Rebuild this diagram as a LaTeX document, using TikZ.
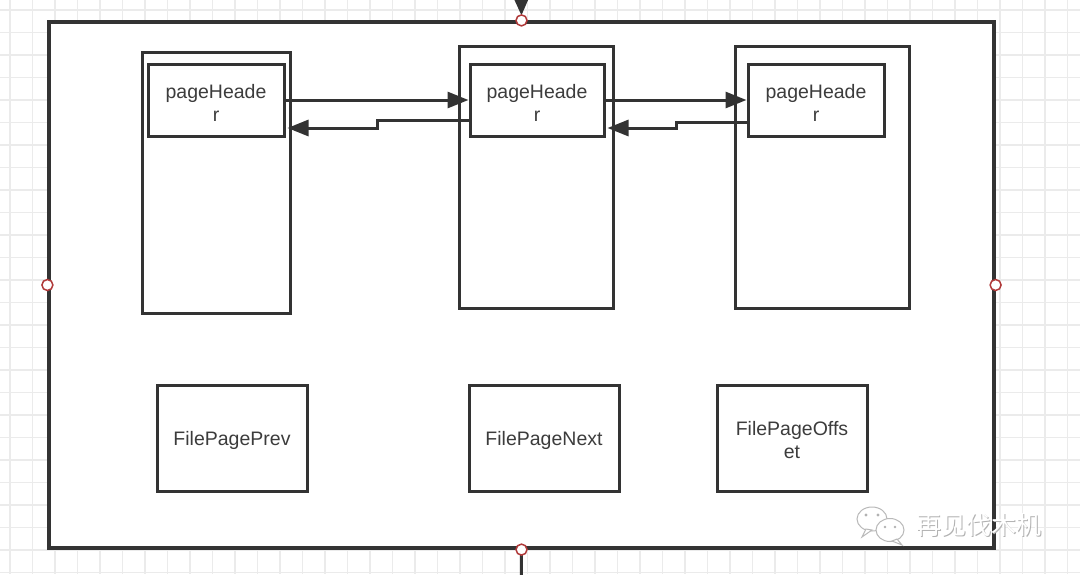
\documentclass[tikz,border=0pt]{standalone}
\usepackage{fontspec}
\setmainfont{Liberation Sans}
\newfontfamily\cjkfont{Noto Sans CJK SC}
\usetikzlibrary{arrows.meta,calc}
\definecolor{ink}{HTML}{333333}
\definecolor{txt}{HTML}{3C3C3C}
\definecolor{gridc}{HTML}{EBEBEB}
\definecolor{handle}{HTML}{B03A3A}
\tikzset{
  box/.style={draw=ink, line width=3pt, fill=white, inner sep=0pt},
  lbl/.style={text=txt, font=\fontsize{19.5}{23.5}\selectfont, align=center},
  arr/.style={draw=ink, line width=3pt, -{Triangle[length=21pt,width=16pt]}},
  conn/.style={draw=ink, line width=3pt},
  hdl/.style={circle, draw=handle, fill=white, line width=1.5pt, minimum size=11pt, inner sep=0pt},
}
\begin{document}
\begin{tikzpicture}[x=1pt,y=-1pt]
\useasboundingbox (0,0) rectangle (1080,574);
\fill[white] (0,0) rectangle (1080,574);
% grid
\foreach \i in {0,...,47} {
  \draw[gridc, line width=1.6pt] ({10+22.5*\i},0) -- ({10+22.5*\i},574);
}
\foreach \j in {0,...,25} {
  \draw[gridc, line width=1.6pt] (0,{10+22.5*\j}) -- (1080,{10+22.5*\j});
}
% outer frame
\node[box, line width=3.2pt, minimum width=945pt, minimum height=526pt] (frame) at (521.5,285) {};
% tall page boxes
\node[box, minimum width=148pt, minimum height=261pt] (LP) at (216,182.5) {};
\node[box, minimum width=154pt, minimum height=262pt] (MP) at (536,177) {};
\node[box, minimum width=174pt, minimum height=262pt] (RP) at (822,177) {};
% headers
\node[box, minimum width=136pt, minimum height=72pt] (LH) at (216,100) {};
\node[box, minimum width=134pt, minimum height=72pt] (MH) at (537,100) {};
\node[box, minimum width=136pt, minimum height=72pt] (RH) at (816,100) {};
\node[lbl] (LHt) at (216,103) {pageHeade\\r};
\node[lbl] (MHt) at (537,103) {pageHeade\\r};
\node[lbl] (RHt) at (816,103) {pageHeade\\r};
% bottom boxes
\node[box, minimum width=150pt, minimum height=106pt] (prev) at (232,438) {};
\node[box, minimum width=150pt, minimum height=106pt] (next) at (544,438) {};
\node[box, minimum width=150pt, minimum height=106pt] (offs) at (792,438) {};
\node[lbl] (prevt) at (232,440) {FilePagePrev};
\node[lbl] (nextt) at (544,440) {FilePageNext};
\node[lbl] (offst) at (792,440) {FilePageOffs\\et};
% connectors between headers
\draw[arr] (LH.east) -- (MH.west);
\draw[arr] ([yshift=-20pt]MH.west) -- (377,120) -- (377,128) -- ([yshift=-28pt,xshift=2pt]LH.east);
\draw[arr] (MH.east) -- (RH.west);
\draw[arr] ([yshift=-22pt]RH.west) -- (676,122) -- (676,128) -- ([yshift=-28pt,xshift=2pt]MH.east);
% external connectors
\coordinate (topin) at (521,-30);
\coordinate (botout) at (521,600);
\draw[arr, -{Triangle[length=28pt,width=24pt]}, shorten >=5pt] (topin) -- (frame.north);
\draw[conn] (frame.south) -- (botout);
% handles
\node[hdl] at (frame.north) {};
\node[hdl] at (frame.south) {};
\node[hdl] at (frame.west) {};
\node[hdl] at (frame.east) {};
% watermark
\begin{scope}[draw=gray!55, line width=1pt, fill=white]
  \filldraw (872,519) ellipse [x radius=15, y radius=12];
  \filldraw (866,529) -- (862,537) -- (872,530) -- cycle;
  \filldraw (890,530) ellipse [x radius=14, y radius=11.5];
  \filldraw (897,539) -- (902,545) -- (892,541) -- cycle;
  \fill[gray!60] (866,515) circle (1.6) (878,515) circle (1.6) (885,527) circle (1.4) (895,527) circle (1.4);
\end{scope}
\node[font=\cjkfont\fontsize{25}{28}\selectfont, text=gray!60] at (979.5,526) {再见伐木机};
\node[font=\cjkfont\fontsize{25}{28}\selectfont, text=white] at (978.5,525) {再见伐木机};
\end{tikzpicture}
\end{document}
